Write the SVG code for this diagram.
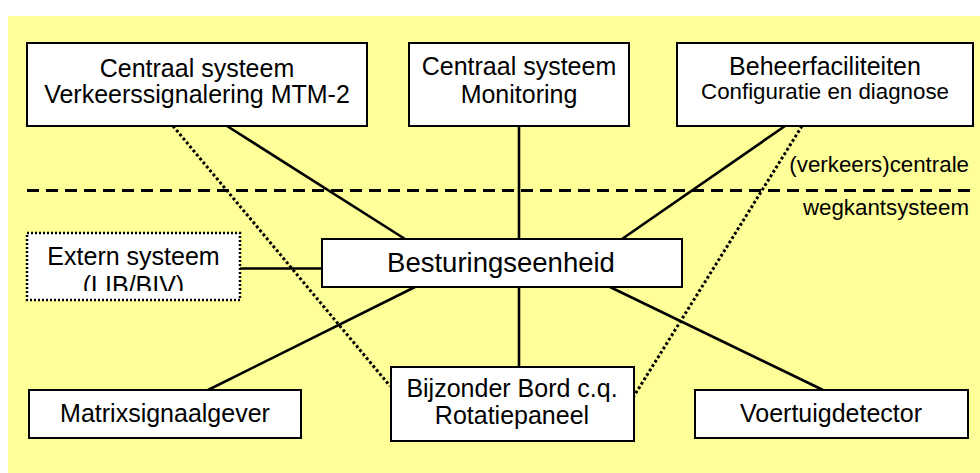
<svg xmlns="http://www.w3.org/2000/svg" width="980" height="473" viewBox="0 0 980 473">
  <style>
    .box { fill: #ffffff; stroke: #000000; stroke-width: 2; }
    .ext { fill: #ffffff; stroke: #000000; stroke-width: 2.5; stroke-dasharray: 2 2; }
    .t { font-family: "Liberation Sans", Arial, sans-serif; font-size: 25px; fill: #000000; text-anchor: middle; }
    .ts { font-family: "Liberation Sans", Arial, sans-serif; font-size: 22.3px; fill: #000000; }
    .solid { stroke: #000000; stroke-width: 2.6; fill: none; }
    .dot { stroke: #000000; stroke-width: 3; fill: none; stroke-dasharray: 2.8 2.4; }
    .dash { stroke: #000000; stroke-width: 3; fill: none; stroke-dasharray: 12 7; }
  </style>
  <defs>
    <clipPath id="extClip"><rect x="27" y="233" width="213" height="58"/></clipPath>
  </defs>

  <!-- background -->
  <rect x="8" y="16" width="972" height="457" fill="#ffff99"/>

  <!-- boundary between central and roadside -->
  <line class="dash" x1="27" y1="190.5" x2="972" y2="190.5"/>
  <text class="ts" x="969" y="172" text-anchor="end">(verkeers)centrale</text>
  <text class="ts" x="969" y="215" text-anchor="end">wegkantsysteem</text>

  <g id="connectors">
    <line class="solid" x1="227" y1="126" x2="405" y2="239"/>
    <line class="solid" x1="519" y1="126" x2="519" y2="239"/>
    <line class="solid" x1="785" y1="126" x2="622" y2="239"/>
    <line class="solid" x1="240" y1="268.5" x2="322" y2="268.5"/>
    <line class="solid" x1="415" y1="287" x2="208" y2="390"/>
    <line class="solid" x1="519" y1="287" x2="519" y2="367"/>
    <line class="solid" x1="610" y1="287" x2="823" y2="390"/>
    <line class="dot" x1="173" y1="126" x2="390" y2="386"/>
    <line class="dot" x1="802" y1="126" x2="634" y2="396"/>
  </g>

  <g id="centraal-mtm">
    <rect class="box" x="27" y="43" width="340" height="83"/>
    <text class="t" x="197" y="76.5">Centraal systeem</text>
    <text class="t" x="197" y="102.5">Verkeerssignalering MTM-2</text>
  </g>

  <g id="centraal-monitoring">
    <rect class="box" x="409" y="43" width="220" height="83"/>
    <text class="t" x="519" y="74.5">Centraal systeem</text>
    <text class="t" x="519" y="102.5">Monitoring</text>
  </g>

  <g id="beheer">
    <rect class="box" x="677" y="43" width="296" height="83"/>
    <text class="t" x="825" y="74.5">Beheerfaciliteiten</text>
    <text class="t" x="825" y="98.5" style="font-size:22.3px">Configuratie en diagnose</text>
  </g>

  <g id="extern">
    <rect class="ext" x="27" y="233" width="213" height="67"/>
    <g clip-path="url(#extClip)">
      <text class="t" x="133.5" y="265">Extern systeem</text>
      <text class="t" x="133.5" y="294">(LIB/BIV)</text>
    </g>
  </g>

  <g id="besturing">
    <rect class="box" x="322" y="239" width="360" height="48"/>
    <text class="t" x="501" y="272" style="font-size:27.5px">Besturingseenheid</text>
  </g>

  <g id="matrix">
    <rect class="box" x="29" y="390" width="272" height="48"/>
    <text class="t" x="165" y="422">Matrixsignaalgever</text>
  </g>

  <g id="bijzonder">
    <rect class="box" x="391" y="367" width="243" height="74"/>
    <text class="t" x="512" y="397">Bijzonder Bord c.q.</text>
    <text class="t" x="512" y="424">Rotatiepaneel</text>
  </g>

  <g id="voertuig">
    <rect class="box" x="695" y="390" width="273" height="48"/>
    <text class="t" x="831" y="422">Voertuigdetector</text>
  </g>
</svg>
